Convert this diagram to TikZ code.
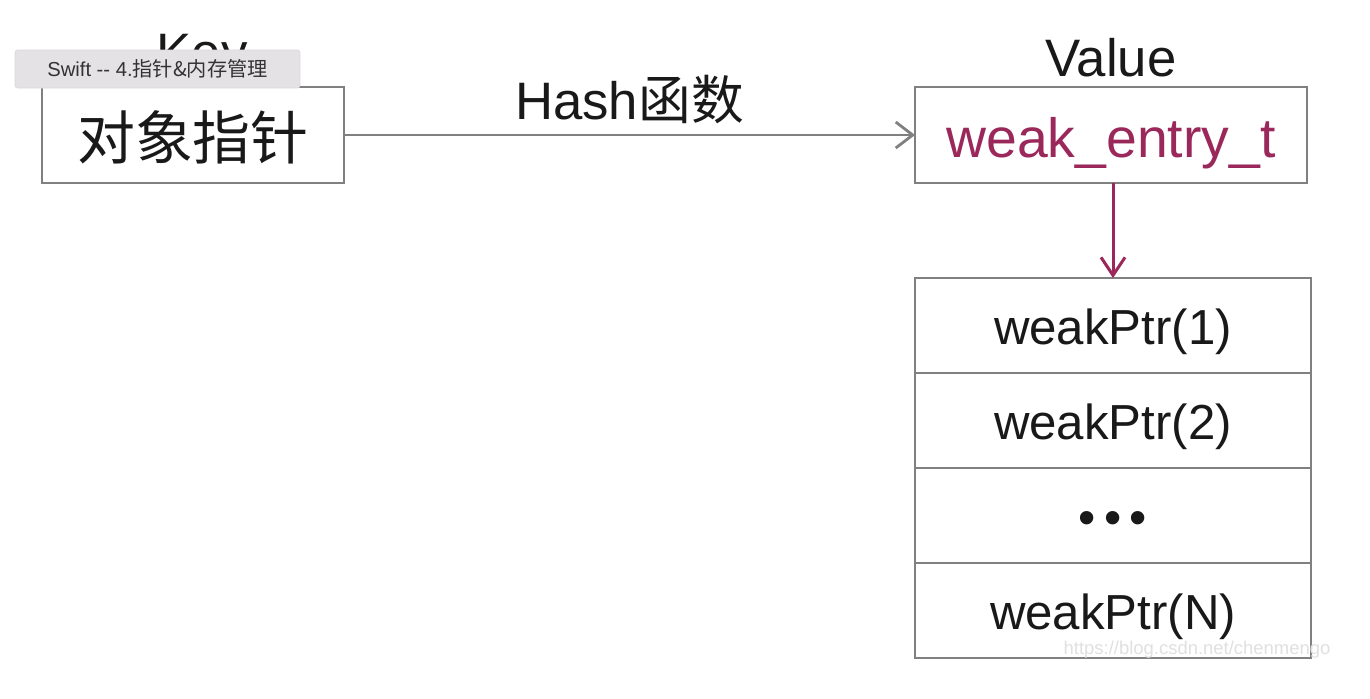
\documentclass[tikz,border=0pt]{standalone}
\usepackage{fontspec}
\setmainfont{Liberation Sans}
\newfontfamily\cjk{Noto Sans CJK SC}
\usetikzlibrary{arrows.meta,positioning}

\definecolor{boxgray}{RGB}{128,128,128}
\definecolor{entryred}{RGB}{155,40,90}
\definecolor{tipgray}{RGB}{229,226,230}

\begin{document}
\begin{tikzpicture}[x=0.02cm,y=-0.02cm,
    every node/.style={inner sep=0pt,outer sep=0pt,text=black!90},
    cell/.style={draw=boxgray,line width=1.2pt,minimum height=1.92cm},
    row/.style={draw=boxgray,line width=1.2pt,minimum width=7.92cm,minimum height=1.9cm,
                text height=22pt,text depth=0pt,font=\fontsize{28}{30}\selectfont},
    title/.style={font=\fontsize{30}{32}\selectfont},
    link/.style={draw=boxgray,line width=1.4pt,-{Straight Barb[length=3.4mm,width=5.2mm,line width=1.6pt]}}]
  \useasboundingbox (0,0) rectangle (1370,698);
  \fill[white] (0,0) rectangle (1370,698);

  % key -> value
  \node[title] (keylbl) at (202,58) {Key};
  \node[cell,minimum width=6.04cm,font=\cjk\fontsize{33}{35}\selectfont] (key) at (193,135) {\smash{\raisebox{-13.8pt}{对象指针}}};
  \node[title] (vallbl) at (1111,58) {Value};
  \node[cell,minimum width=7.84cm,text height=26pt,text depth=0pt,text=entryred,
        font=\fontsize{31.5}{33}\selectfont] (entry) at (1111,135) {weak\_entry\_t};
  \draw[link] (key) -- node[above=0.22cm,title,text=black!90] {Hash\cjk{函数}} (entry);

  % weak pointers
  \node[row] (p1) at (1113,325.5) {weakPtr(1)};
  \node[row,below=0pt of p1] (p2) {weakPtr(2)};
  \node[row,below=0pt of p2] (pdots) {\textbullet\,\textbullet\,\textbullet};
  \node[row,below=0pt of pdots] (pn) {weakPtr(N)};
  \draw[link,draw=entryred,line width=1.7pt,
        -{Straight Barb[length=3.6mm,width=4.8mm,line width=1.7pt]}] (entry.south -| p1.north) -- (p1.north);

  % overlay from the screenshot
  \node[fill=tipgray,draw=black!15,rounded corners=1.5pt,minimum width=5.7cm,minimum height=0.76cm,
        font=\fontsize{11.5}{13}\selectfont,text=black!80] (tip) at (157.5,69) {Swift -{}- 4.\cjk{指针}\&\cjk{内存管理}};
  \node[text=black!12,font=\fontsize{10.5}{12}\selectfont] (mark) at (1197,650) {https://blog.csdn.net/chenmengo};
\end{tikzpicture}
\end{document}
